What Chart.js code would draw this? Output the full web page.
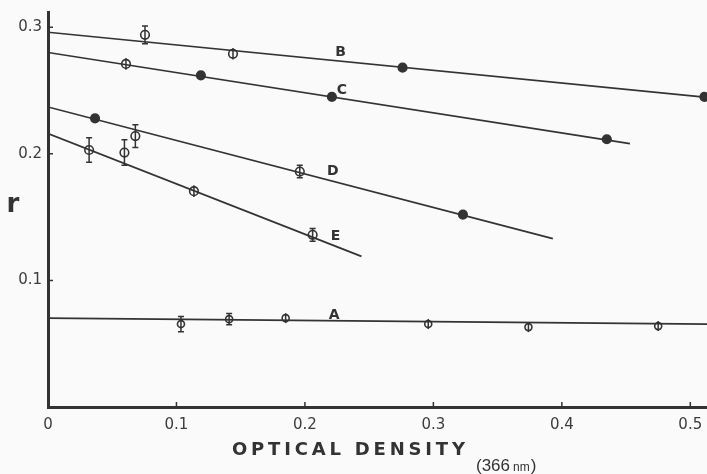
<!DOCTYPE html>
<html>
<head>
<meta charset="utf-8">
<script src="https://cdn.jsdelivr.net/npm/chart.js@4.4.1/dist/chart.umd.min.js"></script>
<style>
html, body { margin: 0; padding: 0; background: #fafafa; overflow: hidden; }
#wrap { width: 707px; height: 474px; position: relative; }
canvas { display: block; }
</style>
</head>
<body>
<div id="wrap"><canvas id="chart"></canvas></div>
<script>
// series
var seriesNames = ['A', 'B', 'C', 'D', 'E'];

// measured points: optical density, r, error half-width (0 = none)
var odA = [0.1035, 0.141, 0.185, 0.296, 0.374, 0.475];
var rA = [0.0655, 0.0694, 0.0702, 0.0655, 0.0631, 0.0639];
var errA = [0.006, 0.0045, 0, 0, 0, 0];

var odB = [0.0755, 0.144, 0.276, 0.511];
var rB = [0.294, 0.279, 0.268, 0.245];
var errB = [0.007, 0, 0, 0];

var odC = [0.0607, 0.119, 0.221, 0.435];
var rC = [0.271, 0.262, 0.245, 0.2115];
var errC = [0, 0, 0, 0];

var odD = [0.0366, 0.196, 0.323];
var rD = [0.228, 0.186, 0.152];
var errD = [0, 0.005, 0];

var odE = [0.032, 0.0595, 0.068, 0.1136, 0.206];
var rE = [0.203, 0.201, 0.214, 0.1705, 0.136];
var errE = [0.0097, 0.01, 0.009, 0, 0.005];

// fitted straight lines: [start, end]
var fitOdA = [0, 0.513];
var fitRA = [0.0702, 0.0655];
var fitOdB = [0, 0.513];
var fitRB = [0.296, 0.2445];
var fitOdC = [0, 0.453];
var fitRC = [0.280, 0.208];
var fitOdD = [0, 0.393];
var fitRD = [0.237, 0.133];
var fitOdE = [0, 0.244];
var fitRE = [0.216, 0.119];

// axis ticks
var xTicks = [0, 0.1, 0.2, 0.3, 0.4, 0.5];
var yTicks = [0.1, 0.2, 0.3];

// ---- styling ----
var ink = '#333333';
var paper = '#fafafa';
// filled (true) or open (false) marker per point
var markerFilled = {
	A: [false, false, false, false, false, false],
	B: [false, false, true, true],
	C: [false, true, true, true],
	D: [true, false, true],
	E: [false, false, false, false, false]
};
var markerSize = { A: 3.5, B: 4.3, C: 4.3, D: 4.3, E: 4.3 };
// where the letter of each line sits (optical density along the line)
var letterOd = { A: 0.222, B: 0.227, C: 0.228, D: 0.221, E: 0.223 };
var letterLift = { A: 5, B: 9, C: 8, D: 10, E: 9 };

var pts = {
	A: [odA, rA, errA], B: [odB, rB, errB], C: [odC, rC, errC],
	D: [odD, rD, errD], E: [odE, rE, errE]
};
var fits = {
	A: [fitOdA, fitRA], B: [fitOdB, fitRB], C: [fitOdC, fitRC],
	D: [fitOdD, fitRD], E: [fitOdE, fitRE]
};

function zip(xs, ys) {
	return xs.map(function (x, i) { return { x: x, y: ys[i] }; });
}

var datasets = [];
seriesNames.forEach(function (name) {
	datasets.push({
		label: 'fit ' + name,
		data: zip(fits[name][0], fits[name][1]),
		showLine: true,
		borderColor: ink,
		borderWidth: 1.7,
		pointRadius: 0,
		fill: false,
		clip: 0
	});
});
seriesNames.forEach(function (name) {
	datasets.push({
		label: name,
		series: name,
		isPoints: true,
		data: zip(pts[name][0], pts[name][1]),
		showLine: false,
		clip: false,
		pointRadius: markerSize[name],
		pointBorderWidth: 1.6,
		pointBorderColor: ink,
		pointBackgroundColor: markerFilled[name].map(function (f) { return f ? ink : paper; })
	});
});

var decorPlugin = {
	id: 'decor',
	beforeDraw: function (chart) {
		var ctx = chart.ctx;
		ctx.save();
		ctx.fillStyle = paper;
		ctx.fillRect(0, 0, chart.width, chart.height);
		ctx.restore();
	},
	afterDatasetsDraw: function (chart) {
		var ctx = chart.ctx;
		var ys = chart.scales.y;
		ctx.save();
		ctx.strokeStyle = ink;
		ctx.lineWidth = 1.5;
		chart.data.datasets.forEach(function (ds, di) {
			if (!ds.isPoints) return;
			var name = ds.series;
			var meta = chart.getDatasetMeta(di);
			var errs = pts[name][2];
			var rad = markerSize[name];
			meta.data.forEach(function (el, i) {
				var px = el.x, py = el.y;
				if (errs[i] > 0) {
					var yTop = ys.getPixelForValue(pts[name][1][i] + errs[i]);
					var yBot = ys.getPixelForValue(pts[name][1][i] - errs[i]);
					ctx.beginPath();
					ctx.moveTo(px, yTop); ctx.lineTo(px, yBot);
					ctx.moveTo(px - 3, yTop); ctx.lineTo(px + 3, yTop);
					ctx.moveTo(px - 3, yBot); ctx.lineTo(px + 3, yBot);
					ctx.stroke();
				} else if (!markerFilled[name][i]) {
					ctx.beginPath();
					ctx.moveTo(px, py - rad - 1.5); ctx.lineTo(px, py + rad + 1.5);
					ctx.stroke();
				}
			});
		});
		ctx.restore();
	},
	afterDraw: function (chart) {
		var ctx = chart.ctx;
		var xs = chart.scales.x, ys = chart.scales.y;
		var area = chart.chartArea;
		ctx.save();
		// inward ticks
		ctx.strokeStyle = ink;
		ctx.lineWidth = 1.5;
		ctx.beginPath();
		xTicks.forEach(function (v) {
			if (v === 0) return;
			var px = xs.getPixelForValue(v);
			ctx.moveTo(px, area.bottom); ctx.lineTo(px, area.bottom - 5);
		});
		yTicks.forEach(function (v) {
			var py = ys.getPixelForValue(v);
			ctx.moveTo(area.left, py); ctx.lineTo(area.left + 5, py);
		});
		ctx.stroke();

		// line letters
		ctx.fillStyle = ink;
		ctx.font = 'bold 14px "DejaVu Sans", sans-serif';
		ctx.textAlign = 'center';
		ctx.textBaseline = 'middle';
		seriesNames.forEach(function (name) {
			var f = fits[name];
			var od = letterOd[name];
			var t = (od - f[0][0]) / (f[0][1] - f[0][0]);
			var r = f[1][0] + t * (f[1][1] - f[1][0]);
			ctx.fillText(name, xs.getPixelForValue(od) + 1, ys.getPixelForValue(r) - letterLift[name]);
		});

		// y axis letter
		ctx.font = 'bold 26px "DejaVu Sans", sans-serif';
		ctx.textAlign = 'center';
		ctx.textBaseline = 'alphabetic';
		ctx.fillText('r', 13, 212);

		// x axis title
		ctx.font = 'bold 18px "DejaVu Sans", sans-serif';
		var title = 'OPTICAL DENSITY';
		var want = 233;
		var w0 = ctx.measureText(title).width;
		ctx.letterSpacing = ((want - w0) / (title.length - 1)).toFixed(2) + 'px';
		ctx.textAlign = 'left';
		ctx.fillText(title, 232, 455);
		ctx.letterSpacing = '0px';

		// wavelength note
		ctx.font = '17px "Liberation Sans", sans-serif';
		ctx.fillText('(366', 476, 471);
		var xx = 476 + ctx.measureText('(366').width + 3;
		ctx.font = '12px "Liberation Sans", sans-serif';
		ctx.fillText('nm', xx, 471);
		xx += ctx.measureText('nm').width + 1;
		ctx.font = '17px "Liberation Sans", sans-serif';
		ctx.fillText(')', xx, 471);
		ctx.restore();
	}
};

var ctx = document.getElementById('chart').getContext('2d');
var chart = new Chart(ctx, {
	type: 'scatter',
	data: { datasets: datasets },
	options: {
		responsive: true,
		maintainAspectRatio: false,
		animation: false,
		events: [],
		layout: { autoPadding: false, padding: { top: 12, right: 0, left: 0, bottom: 0 } },
		plugins: { legend: { display: false }, tooltip: { enabled: false } },
		scales: {
			x: {
				type: 'linear',
				min: 0,
				max: 0.513,
				afterFit: function (scale) {
					scale.height = 67;
					scale.paddingLeft = 0;
					scale.paddingRight = 0;
				},
				afterBuildTicks: function (scale) {
					scale.ticks = xTicks.map(function (v) { return { value: v }; });
				},
				grid: { display: false, drawTicks: false },
				border: { display: true, color: ink, width: 3 },
				ticks: {
					padding: 9,
					color: '#3c3c3c',
					font: { family: '"DejaVu Sans", sans-serif', size: 15 },
					maxRotation: 0,
					callback: function (v) { return v === 0 ? '0' : v.toFixed(1); }
				}
			},
			y: {
				type: 'linear',
				min: 0,
				max: 0.312,
				afterFit: function (scale) {
					scale.width = 48;
					scale.paddingTop = 0;
					scale.paddingBottom = 0;
				},
				afterBuildTicks: function (scale) {
					scale.ticks = yTicks.map(function (v) { return { value: v }; });
				},
				grid: { display: false, drawTicks: false },
				border: { display: true, color: ink, width: 3 },
				ticks: {
					padding: 6,
					color: '#3c3c3c',
					font: { family: '"DejaVu Sans", sans-serif', size: 15 },
					callback: function (v) { return v.toFixed(1); }
				}
			}
		}
	},
	plugins: [decorPlugin]
});
</script>
</body>
</html>
